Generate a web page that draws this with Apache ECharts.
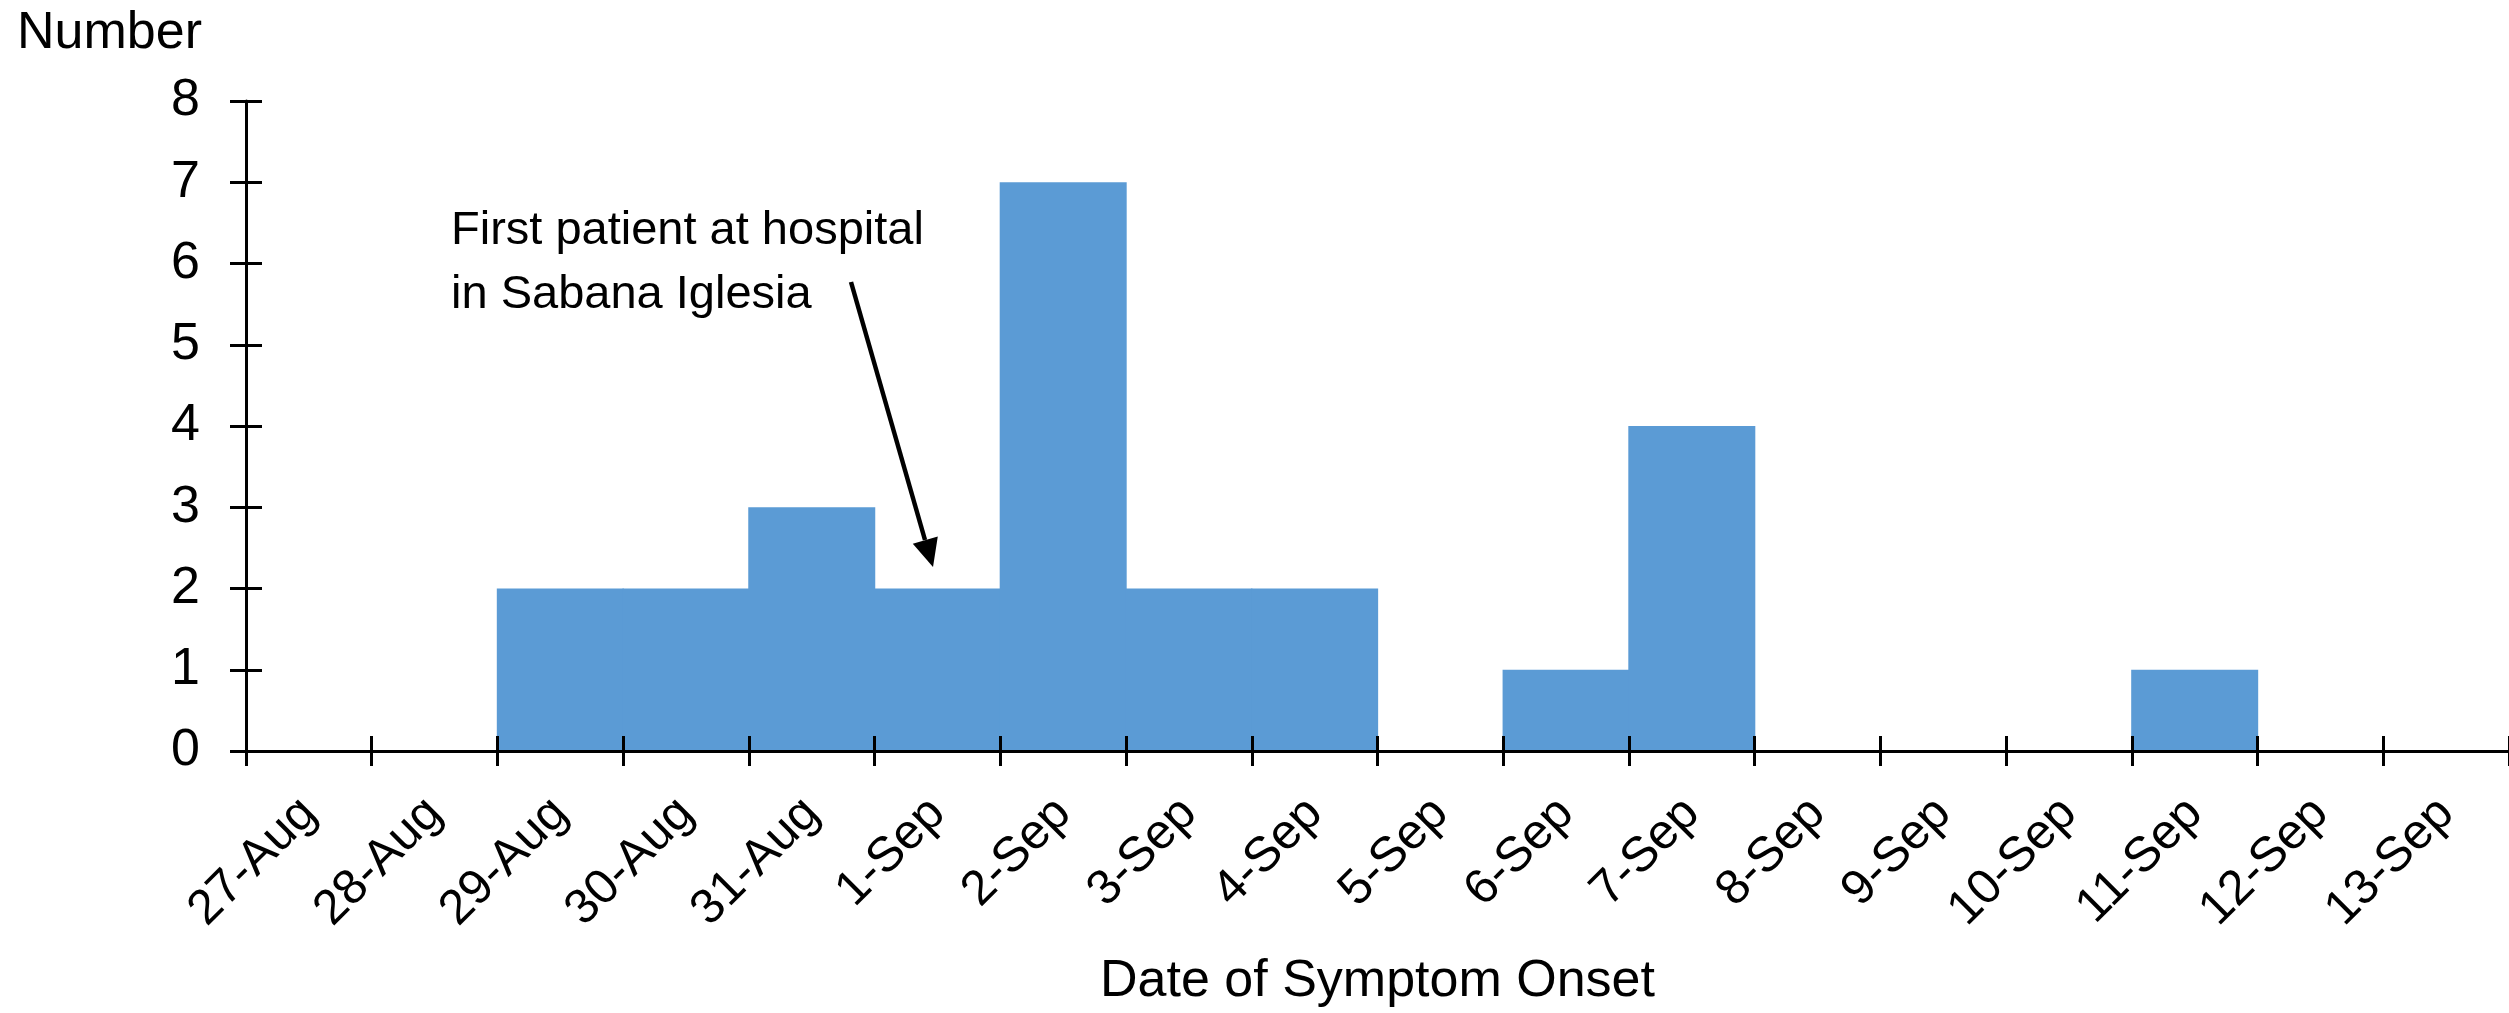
<!DOCTYPE html>
<html>
<head>
<meta charset="utf-8">
<script src="https://cdn.jsdelivr.net/npm/echarts@6/dist/echarts.min.js"></script>
<style>
  html, body { margin: 0; padding: 0; background: #fff; }
  #chart { width: 2509px; height: 1013px; }
</style>
</head>
<body>
<div id="chart"></div>
<script>
const days = ['27-Aug', '28-Aug', '29-Aug', '30-Aug', '31-Aug', '1-Sep', '2-Sep', '3-Sep', '4-Sep',
  '5-Sep', '6-Sep', '7-Sep', '8-Sep', '9-Sep', '10-Sep', '11-Sep', '12-Sep', '13-Sep']
const cases = [0, 0, 2, 2, 3, 2, 7, 2, 2, 0, 1, 4, 0, 0, 0, 1, 0, 0]
const yTicks = [0, 1, 2, 3, 4, 5, 6, 7, 8]

const FONT = 'Liberation Sans, Arial, sans-serif'
const BAR = '#5b9bd5'

const chart = echarts.init(document.getElementById('chart'), null, { renderer: 'canvas' })

const axisLine = { show: true, lineStyle: { color: '#000', width: 3 } }

chart.setOption({
  animation: false,
  backgroundColor: '#fff',
  grid: { left: 246, width: 2266, top: 101, bottom: 260, containLabel: false },
  xAxis: [
    {
      type: 'category', data: days, boundaryGap: true, z: 5,
      axisLine,
      axisTick: { show: true, inside: false, length: 15, lineStyle: { color: '#000', width: 3 } },
      axisLabel: { interval: 0, rotate: 45, margin: 55, fontSize: 49, fontFamily: FONT, color: '#000' },
      name: 'Date of Symptom Onset', nameLocation: 'middle', nameGap: 205,
      nameTextStyle: { fontSize: 52, fontFamily: FONT, color: '#000' },
      splitLine: { show: false }
    },
    {
      // same axis again, only for the upper half of the crossing ticks
      type: 'category', data: days, boundaryGap: true, position: 'bottom', z: 5,
      axisLine: { show: false },
      axisTick: { show: true, inside: true, length: 15, lineStyle: { color: '#000', width: 3 } },
      axisLabel: { show: false }, splitLine: { show: false }
    }
  ],
  yAxis: [
    {
      type: 'value', min: 0, max: 8, interval: 1, z: 5,
      axisLine,
      axisTick: { show: true, inside: false, length: 16, lineStyle: { color: '#000', width: 3 } },
      axisLabel: { margin: 46, fontSize: 52, fontFamily: FONT, color: '#000',
        formatter: v => yTicks.includes(v) ? String(v) : '' },
      splitLine: { show: false }
    },
    {
      type: 'value', min: 0, max: 8, interval: 1, position: 'left', z: 5,
      axisLine: { show: false },
      axisTick: { show: true, inside: true, length: 16, lineStyle: { color: '#000', width: 3 } },
      axisLabel: { show: false }, splitLine: { show: false }
    }
  ],
  series: [{
    type: 'bar', data: cases, xAxisIndex: 0, yAxisIndex: 0,
    // a touch wider than the 125.9px slot so neighbouring bars overlap and leave no seam
    barWidth: 127,
    itemStyle: { color: BAR },
    z: 1
  }],
  graphic: [
    { type: 'text', left: 17, top: 8,
      style: { text: 'Number', fontSize: 52, fontFamily: FONT, fill: '#000' } },
    { type: 'text', x: 451, y: 199,
      style: { text: 'First patient at hospital\nin Sabana Iglesia', fontSize: 47, lineHeight: 64,
        fontFamily: FONT, fill: '#000', verticalAlign: 'top' } },
    { type: 'line', shape: { x1: 851, y1: 282, x2: 925, y2: 540 },
      style: { stroke: '#000', lineWidth: 4.5 } },
    { type: 'polygon', shape: { points: [[933, 567], [912.8, 543.7], [937.8, 536.5]] },
      style: { fill: '#000' } }
  ]
})
</script>
</body>
</html>
